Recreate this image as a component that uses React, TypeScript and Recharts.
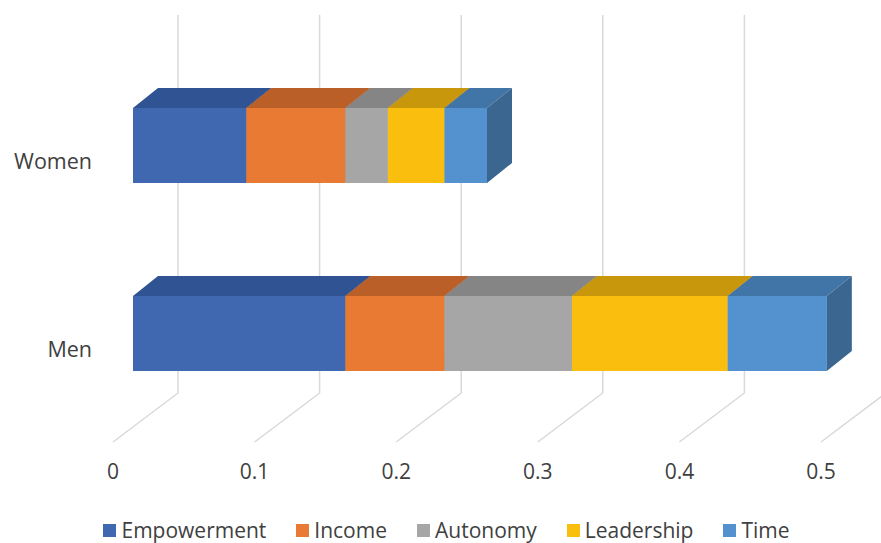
import React from 'react';
import { BarChart, Bar, XAxis, YAxis, CartesianGrid, Legend } from 'recharts';

const categories = ['Women', 'Men'];
const empowerment = [0.08, 0.15];
const income = [0.07, 0.07];
const autonomy = [0.03, 0.09];
const leadership = [0.04, 0.11];
const time = [0.03, 0.07];
const xTicks = [0, 0.1, 0.2, 0.3, 0.4, 0.5];

const series = [
  { key: 'Empowerment', values: empowerment, front: '#3F68B1', top: '#2F5393', side: '#2C4C86' },
  { key: 'Income', values: income, front: '#E97A34', top: '#BA5F27', side: '#A95624' },
  { key: 'Autonomy', values: autonomy, front: '#A6A6A6', top: '#858585', side: '#7A7A7A' },
  { key: 'Leadership', values: leadership, front: '#FABE0F', top: '#C8970B', side: '#B8890A' },
  { key: 'Time', values: time, front: '#5392CF', top: '#4275A7', side: '#3A6690' },
];

const data = categories.map((name, i) => {
  const row: Record<string, string | number> = { name };
  series.forEach((s) => {
    row[s.key] = s.values[i];
  });
  return row;
});

// depth of the 3D bars and of the floor
const DX = 25;
const DY = 20;
const textColor = '#404040';

const makeShape = (front: string, top: string, side: string) => (props: any) => {
  const { x, y, width, height } = props;
  if (!width || !height) return <g />;
  return (
    <g>
      <rect x={x} y={y} width={width} height={height} fill={front} />
      <polygon
        points={`${x},${y} ${x + DX},${y - DY} ${x + width + DX},${y - DY} ${x + width},${y}`}
        fill={top}
      />
      <polygon
        points={`${x + width},${y} ${x + width + DX},${y - DY} ${x + width + DX},${y + height - DY} ${x + width},${y + height}`}
        fill={side}
      />
    </g>
  );
};

const gridLine = (props: any) => {
  const { x1, index } = props;
  return (
    <path
      key={`grid-${index}`}
      d={`M${x1 + 45},15 L${x1 + 45},393 L${x1 - 20},442`}
      stroke="#D9D9D9"
      strokeWidth={1.5}
      fill="none"
    />
  );
};

const XTick = (props: any) => {
  const { x, payload } = props;
  return (
    <text x={x - 20} y={479} textAnchor="middle" fontSize={21} fill={textColor}>
      {payload.value}
    </text>
  );
};

const YTick = (props: any) => {
  const { y, payload } = props;
  return (
    <text x={92} y={y + 24} textAnchor="end" fontSize={21.5} fill={textColor}>
      {payload.value}
    </text>
  );
};

const renderLegend = () => (
  <div
    style={{
      height: 30,
      display: 'flex',
      justifyContent: 'center',
      alignItems: 'center',
      paddingLeft: 12,
      paddingTop: 4,
      boxSizing: 'border-box',
      fontSize: 21,
      color: textColor,
      whiteSpace: 'nowrap',
    }}
  >
    {series.map((s, i) => (
      <div key={s.key} style={{ display: 'flex', alignItems: 'center', marginLeft: i === 0 ? 0 : 30 }}>
        <span style={{ width: 13, height: 13, background: s.front, marginRight: 5, display: 'inline-block' }} />
        <span style={{ lineHeight: '26px' }}>{s.key}</span>
      </div>
    ))}
  </div>
);

export default function App() {
  return (
    <div
      style={{
        position: 'absolute',
        left: 0,
        top: 0,
        width: 881,
        height: 543,
        background: '#fff',
        fontFamily: '"Open Sans", sans-serif',
      }}
    >
      <BarChart
        width={881}
        height={543}
        data={data}
        layout="vertical"
        barSize={75}
        margin={{ top: 51, right: 40, bottom: 0, left: 0 }}
      >
        <CartesianGrid horizontal={false} vertical={gridLine} />
        <XAxis
          type="number"
          domain={[0, 0.5]}
          ticks={xTicks}
          height={86}
          axisLine={false}
          tickLine={false}
          tick={XTick}
        />
        <YAxis type="category" dataKey="name" width={133} axisLine={false} tickLine={false} tick={YTick} />
        <Legend
          verticalAlign="bottom"
          height={30}
          content={renderLegend}
          wrapperStyle={{ left: 0, width: 881 }}
        />
        {series.map((s) => (
          <Bar
            key={s.key}
            dataKey={s.key}
            stackId="a"
            fill={s.front}
            isAnimationActive={false}
            shape={makeShape(s.front, s.top, s.side)}
          />
        ))}
      </BarChart>
    </div>
  );
}
